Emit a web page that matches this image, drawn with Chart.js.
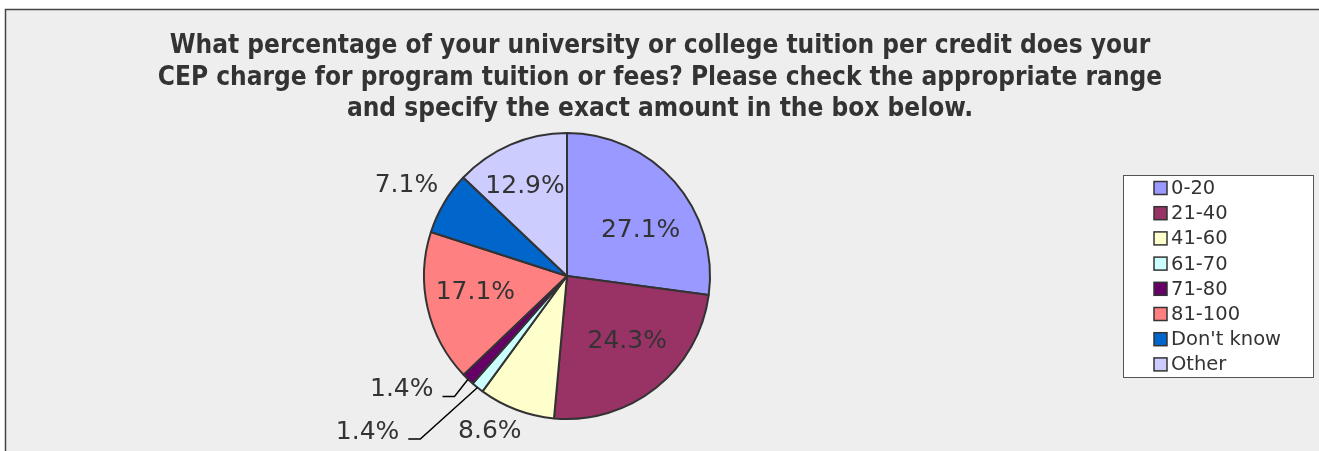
<!DOCTYPE html>
<html>
<head>
<meta charset="utf-8">
<script src="https://cdn.jsdelivr.net/npm/chart.js@4.4.1/dist/chart.umd.min.js"></script>
<style>
  html, body { margin: 0; padding: 0; background: #fff; }
  canvas { display: block; }
</style>
</head>
<body>
<canvas id="tuitionPie" width="1319" height="451"></canvas>
<script>
const titleLines = [
    'What percentage of your university or college tuition per credit does your',
    'CEP charge for program tuition or fees? Please check the appropriate range',
    'and specify the exact amount in the box below.'
];
const categories = ['0-20', '21-40', '41-60', '61-70', '71-80', '81-100', "Don't know", 'Other'];
const percents = [27.1, 24.3, 8.6, 1.4, 1.4, 17.1, 7.1, 12.9];
const sliceColors = ['#9999FF', '#993366', '#FFFFCC', '#CCFFFF', '#660066', '#FF8080', '#0066CC', '#CCCCFF'];

// label spot per slice: r = share of the radius along the slice middle, dx/dy small nudge,
// leader = line from the rim (length, screen angle in degrees) then a short horizontal tail
const labelSpots = [
    { r: 0.60, dx: 9, dy: 11 },
    { r: 0.62, dx: 5, dy: -4 },
    { r: 1.21, dx: -16, dy: -6 },
    { leader: { len: 77, angle: 138 } },
    { leader: { len: 22, angle: 128 } },
    { r: 0.65, dx: -1, dy: -4 },
    { r: 1.29, dx: -2, dy: 4 },
    { r: 0.69, dx: -3, dy: 1 }
];

const TEXT = '#333333';
const LABEL_FONT = '25px "DejaVu Sans", sans-serif';

const framePlugin = {
    id: 'frame',
    beforeDraw(chart) {
        const ctx = chart.ctx;
        ctx.save();
        ctx.fillStyle = '#ffffff';
        ctx.fillRect(0, 0, chart.width, chart.height);
        ctx.fillStyle = '#eeeeee';
        ctx.fillRect(5, 9, chart.width, chart.height);
        ctx.strokeStyle = '#444444';
        ctx.lineWidth = 1.5;
        ctx.beginPath();
        ctx.moveTo(5.5, chart.height + 2);
        ctx.lineTo(5.5, 9.5);
        ctx.lineTo(chart.width + 2, 9.5);
        ctx.stroke();
        ctx.restore();
    }
};

const titlePlugin = {
    id: 'titleLines',
    afterDraw(chart) {
        const ctx = chart.ctx;
        ctx.save();
        ctx.fillStyle = TEXT;
        ctx.font = 'bold 26px "DejaVu Sans Condensed", "DejaVu Sans", sans-serif';
        ctx.textAlign = 'center';
        ctx.textBaseline = 'alphabetic';
        titleLines.forEach((line, i) => {
            ctx.fillText(line, 660, 53 + i * 31.5);
        });
        ctx.restore();
    }
};

const sliceLabels = {
    id: 'sliceLabels',
    afterDatasetsDraw(chart) {
        const ctx = chart.ctx;
        const meta = chart.getDatasetMeta(0);
        ctx.save();
        ctx.font = LABEL_FONT;
        ctx.fillStyle = TEXT;
        meta.data.forEach((arc, i) => {
            const p = arc.getProps(['x', 'y', 'startAngle', 'endAngle', 'outerRadius'], true);
            const mid = (p.startAngle + p.endAngle) / 2;
            const cx = Math.cos(mid), cy = Math.sin(mid);
            const spot = labelSpots[i];
            const text = percents[i].toFixed(1) + '%';
            if (spot.leader) {
                const x0 = p.x + cx * p.outerRadius;
                const y0 = p.y + cy * p.outerRadius;
                const a = spot.leader.angle * Math.PI / 180;
                const x1 = x0 + Math.cos(a) * spot.leader.len;
                const y1 = y0 + Math.sin(a) * spot.leader.len;
                const x2 = x1 - 12;
                ctx.strokeStyle = '#000000';
                ctx.lineWidth = 1.5;
                ctx.beginPath();
                ctx.moveTo(x0, y0);
                ctx.lineTo(x1, y1);
                ctx.lineTo(x2, y1);
                ctx.stroke();
                ctx.textAlign = 'right';
                ctx.textBaseline = 'middle';
                ctx.fillText(text, x2 - 9, y1 - 7);
            } else {
                const d = spot.r * p.outerRadius;
                ctx.textAlign = 'center';
                ctx.textBaseline = 'middle';
                ctx.fillText(text, p.x + cx * d + spot.dx, p.y + cy * d + spot.dy);
            }
        });
        ctx.restore();
    }
};

const legendBox = {
    id: 'legendBox',
    afterDraw(chart) {
        const ctx = chart.ctx;
        ctx.save();
        ctx.fillStyle = '#ffffff';
        ctx.fillRect(1123, 175, 190, 202);
        ctx.strokeStyle = '#555555';
        ctx.lineWidth = 1;
        ctx.strokeRect(1123.5, 175.5, 190, 202);
        ctx.font = '19.5px "DejaVu Sans", sans-serif';
        ctx.textAlign = 'left';
        ctx.textBaseline = 'middle';
        categories.forEach((name, i) => {
            const y = 188 + i * 25.2;
            ctx.fillStyle = sliceColors[i];
            ctx.fillRect(1154, y - 6.5, 13, 13);
            ctx.strokeStyle = '#333333';
            ctx.lineWidth = 1.5;
            ctx.strokeRect(1154, y - 6.5, 13, 13);
            ctx.fillStyle = TEXT;
            ctx.fillText(name, 1171, y + 1);
        });
        ctx.restore();
    }
};

new Chart(document.getElementById('tuitionPie').getContext('2d'), {
    type: 'pie',
    data: {
        labels: categories,
        datasets: [{
            data: percents,
            backgroundColor: sliceColors,
            borderColor: '#333333',
            borderWidth: 2
        }]
    },
    options: {
        responsive: false,
        animation: false,
        layout: { padding: { left: 423, right: 608, top: 132, bottom: 31 } },
        plugins: {
            legend: { display: false },
            title: { display: false },
            tooltip: { enabled: false }
        }
    },
    plugins: [framePlugin, titlePlugin, sliceLabels, legendBox]
});
</script>
</body>
</html>
